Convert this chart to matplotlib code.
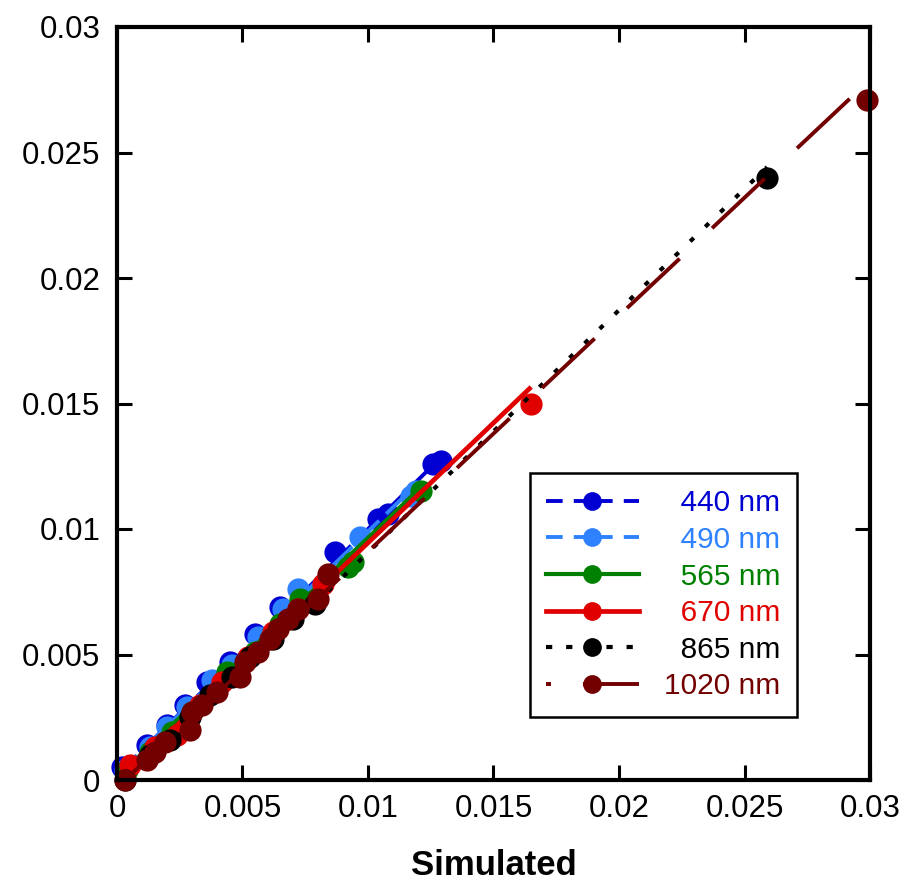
import matplotlib.pyplot as plt
import numpy as np

plt.rcParams['font.family'] = ['Liberation Sans', 'DejaVu Sans']
plt.rcParams['lines.scale_dashes'] = False

# wavelengths and colours
labels = ["\u2007440 nm", "\u2007490 nm", "\u2007565 nm", "\u2007670 nm", "\u2007865 nm", "1020 nm"]
colors = ["#0000d2", "#2f82ff", "#008000", "#e00000", "#000000", "#720000"]

# simulated (x) vs measured (y) values, one list per wavelength
x440 = [0.0002, 0.0012, 0.0020, 0.0027, 0.0036, 0.0045, 0.0055, 0.0065, 0.0087, 0.0104, 0.0108, 0.0126, 0.0129]
y440 = [0.0005, 0.0014, 0.0022, 0.0030, 0.0039, 0.0047, 0.0058, 0.0069, 0.0091, 0.0104, 0.0106, 0.0126, 0.0127]
x490 = [0.0003, 0.0013, 0.0020, 0.0028, 0.0038, 0.0046, 0.0056, 0.0066, 0.0072, 0.0097, 0.0117, 0.0119]
y490 = [0.0004, 0.0013, 0.0021, 0.0029, 0.0040, 0.0046, 0.0057, 0.0068, 0.0076, 0.0097, 0.0113, 0.0115]
x565 = [0.0004, 0.0013, 0.0022, 0.0030, 0.0044, 0.0055, 0.0065, 0.0073, 0.0092, 0.0094, 0.0121]
y565 = [0.0004, 0.0011, 0.0019, 0.0027, 0.0043, 0.0051, 0.0062, 0.0072, 0.0085, 0.0087, 0.0115]
x670 = [0.0005, 0.0015, 0.0024, 0.0033, 0.0042, 0.0052, 0.0062, 0.0072, 0.0082, 0.0165]
y670 = [0.0006, 0.0013, 0.0018, 0.0030, 0.0039, 0.0049, 0.0059, 0.0068, 0.0078, 0.0150]
x865 = [0.0003, 0.0013, 0.0021, 0.0029, 0.0037, 0.0046, 0.0053, 0.0062, 0.0070, 0.0079, 0.0259]
y865 = [0.0000, 0.0010, 0.0016, 0.0025, 0.0034, 0.0041, 0.0049, 0.0056, 0.0064, 0.0070, 0.0240]
x1020 = [0.0003, 0.0012, 0.0015, 0.0019, 0.0029, 0.0030, 0.0034, 0.0040, 0.0049, 0.0051,
         0.0056, 0.0061, 0.0064, 0.0068, 0.0072, 0.0080, 0.0084, 0.0299]
y1020 = [0.0000, 0.0008, 0.0011, 0.0015, 0.0020, 0.0027, 0.0030, 0.0035, 0.0041, 0.0047,
         0.0051, 0.0056, 0.0060, 0.0064, 0.0068, 0.0072, 0.0082, 0.0271]

# linear fit per wavelength (slope, intercept) as drawn in the chart
slopes = [0.98, 0.97, 0.955, 0.955, 0.966, 0.94]
intercepts = [0.0002, 0.0002, 0.0001, -0.0001, -0.0006, -0.0003]

xs = [x440, x490, x565, x670, x865, x1020]
ys = [y440, y490, y565, y670, y865, y1020]

styles = [(0, (20, 7)), (0, (20, 7)), '-', '-', (0, (3.6, 11.5)), (0, (52, 32))]
widths = [2.8, 2.8, 3.0, 3.4, 3.0, 2.8]

ticks = [0, 0.005, 0.01, 0.015, 0.02, 0.025, 0.03]
tick_labels = ["0", "0.005", "0.01", "0.015", "0.02", "0.025", "0.03"]

fig = plt.figure(figsize=(9.04, 8.83), dpi=100)
ax = fig.add_axes([117/904, 1 - 780/883, 753/904, 753/883])

for i in range(6):
    xe = max(xs[i])
    fx = np.array([0.0, xe])
    fy = slopes[i] * fx + intercepts[i]
    ax.plot(fx, fy, color=colors[i], linestyle=styles[i], linewidth=widths[i],
            solid_capstyle='butt', dash_capstyle='butt', zorder=2 + i)
    ax.plot(xs[i], ys[i], linestyle='none', marker='o', markersize=16,
            color=colors[i], markeredgewidth=0, zorder=2 + i, clip_on=False)

# legend proxies: line + marker
handles = []
for i in range(6):
    h, = ax.plot([], [], color=colors[i], linestyle=styles[i], linewidth=widths[i],
                 marker='o', markersize=13.5, markeredgewidth=0)
    handles.append(h)

leg = ax.legend(handles, labels, loc='upper left', bbox_to_anchor=(0.548, 0.408),
                fontsize=21.5, frameon=True, fancybox=False, framealpha=1,
                edgecolor='black', handlelength=3.1, handletextpad=0.85,
                labelspacing=0.29, borderpad=0.55, borderaxespad=0, numpoints=1)
leg.get_frame().set_linewidth(1.8)
leg.set_zorder(20)
for t, c in zip(leg.get_texts(), colors):
    t.set_color(c)
legl = leg.get_lines()
legl[0].set_linestyle((-20, (28, 8)))
legl[1].set_linestyle((-20, (28, 8)))
legl[4].set_linestyle((0, (4.5, 10)))
legl[5].set_linestyle((0, (3.6, 23, 80, 10)))

ax.set_xlim(0, 0.03)
ax.set_ylim(0, 0.03)
ax.set_xticks(ticks)
ax.set_xticklabels(tick_labels)
ax.set_yticks(ticks)
ax.set_yticklabels(tick_labels)
ax.tick_params(direction='in', length=11, width=2.2, labelsize=22.5,
               top=True, right=True, pad=10)
ax.tick_params(axis='y', pad=12)
for s in ax.spines.values():
    s.set_linewidth(3)
    s.set_zorder(15)

ax.set_xlabel("Simulated", fontsize=25, fontweight='bold')
ax.xaxis.set_label_coords(0.5, -0.092)
ax.xaxis.label.set_va('top')

fig.savefig("out.png", dpi=100)
